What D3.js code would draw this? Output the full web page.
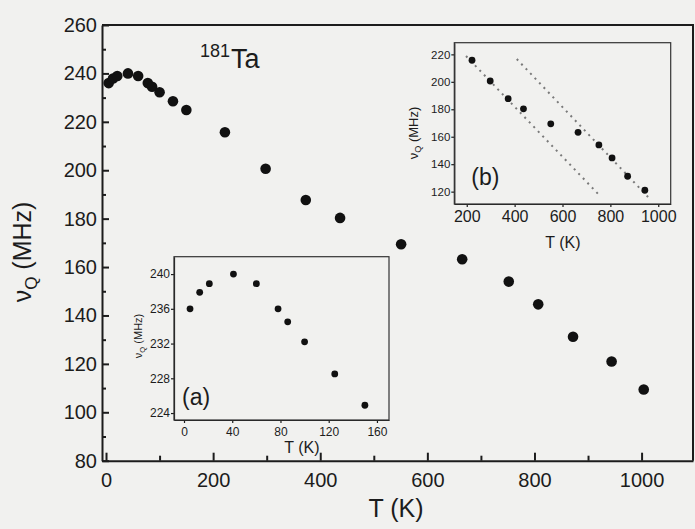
<!DOCTYPE html>
<html>
<head>
    <title>181Ta nuQ vs T</title>
    <style>
        body { margin: 0; background: #f1f1ef; }
        svg { display: block; }
        text { font-family: Arial, "Liberation Sans", sans-serif; fill: #1c1c1c; }
        .axis path, .axis line { stroke: #1c1c1c; }
    </style>
</head>
<body>
<script src="https://d3js.org/d3.v7.min.js"></script>
<script>
    var width = 695,
        height = 529;

    // low temperature points (inset a)
    var tLow = [5, 13, 21, 41, 60, 78, 86, 100, 125, 150],
        vLow = [236.0, 237.9, 238.9, 240.0, 238.9, 236.0, 234.5, 232.2, 228.5, 224.9];

    // high temperature points (inset b uses all but the last one)
    var tHigh = [222, 298, 373, 437, 551, 665, 752, 807, 872, 944, 1004],
        vHigh = [215.7, 200.6, 187.7, 180.3, 169.4, 163.2, 154.0, 144.6, 131.2, 121.0, 109.4];

    // dotted guide lines in inset b (end points)
    var fit1T = [197, 749], fit1V = [218.8, 118.3];
    var fit2T = [409, 965], fit2V = [216.6, 114.7];

    var mainXTicks = [0, 200, 400, 600, 800, 1000],
        mainYTicks = [80, 100, 120, 140, 160, 180, 200, 220, 240, 260],
        aXTicks = [0, 40, 80, 120, 160],
        aYTicks = [224, 228, 232, 236, 240],
        bXTicks = [200, 400, 600, 800, 1000],
        bYTicks = [120, 140, 160, 180, 200, 220];

    var mainData = d3.range(tLow.length).map(function (i) { return {t: tLow[i], v: vLow[i]}; })
        .concat(d3.range(tHigh.length).map(function (i) { return {t: tHigh[i], v: vHigh[i]}; }));
    var aData = mainData.slice(0, tLow.length);
    var bData = d3.range(tHigh.length - 1).map(function (i) { return {t: tHigh[i], v: vHigh[i]}; });

    var fmt = d3.format('d');

    var svg = d3.select('body').append('svg')
            .attr('width', width)
            .attr('height', height);

    // ---- main plot ----
    var x = d3.scaleLinear().domain([-7.5, 1096]).range([102, 693]),
        y = d3.scaleLinear().domain([80, 260]).range([460.7, 25]);

    var gx = svg.append('g').attr('class', 'axis')
            .attr('transform', 'translate(0,' + y(80) + ')')
            .call(d3.axisBottom(x).tickValues(mainXTicks).tickFormat(fmt)
                .tickSizeInner(-8).tickSizeOuter(0).tickPadding(12));
    gx.append('g').call(d3.axisBottom(x).tickValues([100, 300, 500, 700, 900]).tickSize(-5).tickFormat(''))
        .select('.domain').remove();

    var gy = svg.append('g').attr('class', 'axis')
            .attr('transform', 'translate(' + x.range()[0] + ',0)')
            .call(d3.axisLeft(y).tickValues(mainYTicks).tickFormat(fmt)
                .tickSizeInner(-7).tickSizeOuter(0).tickPadding(5));
    gy.append('g').call(d3.axisLeft(y).tickValues([90, 110, 130, 150, 170, 190, 210, 230, 250]).tickSize(-4).tickFormat(''))
        .select('.domain').remove();

    svg.selectAll('.axis path.domain, .axis line').attr('stroke-width', 2);
    svg.selectAll('.axis text').attr('font-size', 20).attr('fill', '#1c1c1c');

    // top and right frame
    svg.append('path')
        .attr('d', 'M' + x.range()[0] + ',' + y(260) + 'H' + x.range()[1] + 'V' + y(80))
        .attr('fill', 'none').attr('stroke', '#1c1c1c').attr('stroke-width', 2);

    svg.selectAll('circle.main')
        .data(mainData)
        .enter().append('circle')
        .attr('class', 'main')
        .attr('cx', function (d) { return x(d.t); })
        .attr('cy', function (d) { return y(d.v); })
        .attr('r', 5.3)
        .style('fill', '#111');

    svg.append('text').attr('x', 200).attr('y', 57).attr('font-size', 18).text('181');
    svg.append('text').attr('x', 231).attr('y', 68).attr('font-size', 27).text('Ta');

    var yl = svg.append('text')
            .attr('transform', 'translate(31,252) rotate(-90)')
            .attr('text-anchor', 'middle')
            .attr('font-size', 25);
    yl.append('tspan').text('\u03bd');
    yl.append('tspan').attr('font-size', 17).attr('dy', 6).text('Q');
    yl.append('tspan').attr('dy', -6).text(' (MHz)');

    svg.append('text').attr('x', 396).attr('y', 517)
        .attr('text-anchor', 'middle').attr('font-size', 25).text('T (K)');

    // ---- inset helper ----
    function inset(opt) {
        var g = svg.append('g');
        var ix = d3.scaleLinear().domain(opt.xDomain).range([opt.left, opt.right]),
            iy = d3.scaleLinear().domain(opt.yDomain).range([opt.bottom, opt.top]);

        g.append('g').attr('class', 'axis')
            .attr('transform', 'translate(0,' + opt.bottom + ')')
            .call(d3.axisBottom(ix).tickValues(opt.xTicks).tickFormat(fmt).tickSizeOuter(0)
                .tickSizeInner(3).tickPadding(opt.xPad))
            .selectAll('text').attr('font-size', opt.xFont);
        g.append('g').attr('class', 'axis')
            .attr('transform', 'translate(' + opt.left + ',0)')
            .call(d3.axisLeft(iy).tickValues(opt.yTicks).tickFormat(fmt).tickSizeOuter(0)
                .tickSizeInner(3).tickPadding(1))
            .selectAll('text').attr('font-size', opt.yFont);

        g.append('rect')
            .attr('x', opt.left).attr('y', opt.top)
            .attr('width', opt.right - opt.left).attr('height', opt.bottom - opt.top)
            .attr('fill', 'none').attr('stroke', '#333').attr('stroke-width', 1.2);

        g.selectAll('.axis line, .axis path').attr('stroke', '#333').attr('stroke-width', 1.2);

        (opt.lines || []).forEach(function (ln) {
            g.append('path')
                .datum(d3.range(ln.t.length).map(function (i) { return [ln.t[i], ln.v[i]]; }))
                .attr('d', d3.line().x(function (d) { return ix(d[0]); }).y(function (d) { return iy(d[1]); }))
                .attr('fill', 'none').attr('stroke', '#7a7a7a').attr('stroke-width', 2)
                .attr('stroke-dasharray', '2,4.5');
        });

        g.selectAll('circle')
            .data(opt.data)
            .enter().append('circle')
            .attr('cx', function (d) { return ix(d.t); })
            .attr('cy', function (d) { return iy(d.v); })
            .attr('r', 3.4)
            .style('fill', '#111');

        g.append('text').attr('x', opt.left + opt.tagDx).attr('y', opt.tagY)
            .attr('font-size', 23).text(opt.tag);
        g.append('text').attr('x', opt.xlabX).attr('y', opt.xlabY)
            .attr('text-anchor', 'middle').attr('font-size', 16).text('T (K)');

        var lab = g.append('text')
                .attr('transform', 'translate(' + opt.ylabX + ',' + opt.ylabY + ') rotate(-90)')
                .attr('text-anchor', 'middle')
                .attr('font-size', opt.ylabFont);
        lab.append('tspan').text('\u03bd');
        lab.append('tspan').attr('font-size', opt.ylabFont * 0.7).attr('dy', 3).text('Q');
        lab.append('tspan').attr('dy', -3).text(' (MHz)');
    }

    inset({
        left: 174, right: 389, top: 256.7, bottom: 420,
        xDomain: [-8.3, 170], yDomain: [223.2, 242],
        xTicks: aXTicks, yTicks: aYTicks, xFont: 12, yFont: 12, xPad: 4,
        data: aData, tag: '(a)', tagDx: 8, tagY: 405,
        xlabX: 302, xlabY: 453, ylabX: 142, ylabY: 336, ylabFont: 11
    });

    inset({
        left: 454.3, right: 670.7, top: 42.7, bottom: 204,
        xDomain: [148, 1052], yDomain: [111, 228.5],
        xTicks: bXTicks, yTicks: bYTicks, xFont: 16, yFont: 11.5, xPad: 4,
        data: bData, tag: '(b)', tagDx: 17, tagY: 185,
        lines: [{t: fit1T, v: fit1V}, {t: fit2T, v: fit2V}],
        xlabX: 563, xlabY: 248, ylabX: 418, ylabY: 133, ylabFont: 13
    });
</script>
</body>
</html>
